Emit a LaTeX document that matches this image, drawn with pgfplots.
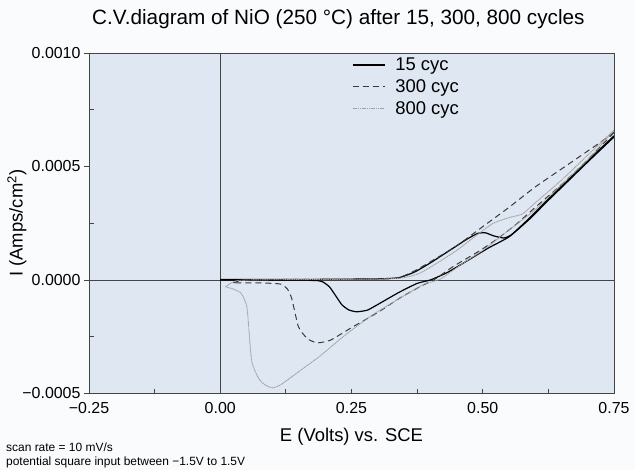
\documentclass[border=0pt]{standalone}
\usepackage{fontspec}
\setmainfont{Liberation Sans}
\usepackage{pgfplots}
\pgfplotsset{compat=1.18}
\definecolor{plotbg}{HTML}{DFE7F2}
\definecolor{pagebg}{HTML}{FAFBFD}
\definecolor{frame}{HTML}{444444}
\definecolor{c300}{HTML}{3A3A3A}
\definecolor{c800}{HTML}{A0A0A0}

\begin{document}
\begin{tikzpicture}
\path[use as bounding box, fill=pagebg] (-89bp,-76.5bp) rectangle (546bp,393.5bp);
\begin{axis}[
  at={(0,0)}, anchor=south west,
  scale only axis, width=525bp, height=340.5bp,
  xmin=-0.25, xmax=0.75, ymin=-0.0005, ymax=0.001,
  axis background/.style={fill=plotbg},
  axis line style={frame, line width=0.8bp},
  scaled x ticks=false, scaled y ticks=false,
  xtick={-0.25,0,0.25,0.5,0.75},
  xticklabels={−0.25,0.00,0.25,0.50,0.75},
  ytick={-0.0005,0,0.0005,0.001},
  yticklabels={−0.0005,0.0000,0.0005,0.0010},
  minor xtick={-0.125,0.125,0.375,0.625},
  tick pos=left,
  xtick align=inside, ytick align=outside,
  major tick length=5bp, minor tick length=5bp,
  tick style={frame, line width=0.8bp},
  extra y ticks={-0.00025,0.00025,0.00075},
  extra y tick labels={},
  extra y tick style={tick align=inside},
  ticklabel style={font=\fontsize{16}{19}\selectfont},
  xticklabel style={yshift=-5bp},
  xlabel={E (Volts) vs. SCE},
  ylabel={I (Amps/cm\textsuperscript{2})},
  every axis x label/.style={at={(rel axis cs:0.5,0)}, yshift=-43.5bp, anchor=center,
    font=\fontsize{18.5}{22}\selectfont},
  every axis y label/.style={at={(rel axis cs:0,0.5)}, xshift=-72bp, rotate=90, anchor=center,
    font=\fontsize{18.5}{22}\selectfont},
  legend style={at={(axis cs:0.245,0.000992)}, anchor=north west, draw=none, fill=none,
    font=\fontsize{18.5}{22}\selectfont, row sep=5.5bp,
    nodes={inner sep=1bp}, column sep=9bp},
  legend cell align=left,
  legend image code/.code={\draw[#1] (0bp,0bp) -- (32bp,0bp);},
]
% zero lines
\addplot[frame, line width=0.9bp, forget plot] coordinates {(-0.25,0) (0.75,0)};
\addplot[frame, line width=0.9bp, forget plot] coordinates {(0,-0.0005) (0,0.001)};

% 15 cyc
\addplot[black, line width=1.2bp, smooth, tension=0.3] coordinates {
(0.00,0.000002) (0.10,0.000002) (0.20,0.000003) (0.30,0.000005) (0.34,0.000010)
(0.37,0.000035) (0.40,0.000075) (0.44,0.000135) (0.47,0.000180) (0.49,0.000205)
(0.505,0.000208) (0.52,0.000195) (0.54,0.000185) (0.555,0.000200) (0.59,0.000275)
(0.62,0.000345) (0.66,0.000435) (0.70,0.000525) (0.75,0.000635)};
\addlegendentry{15 cyc}
\addplot[black, line width=1.2bp, smooth, tension=0.3, forget plot] coordinates {
(0.75,0.000630) (0.70,0.000520) (0.66,0.000430) (0.62,0.000340) (0.59,0.000270)
(0.55,0.000190) (0.51,0.000140) (0.46,0.000070) (0.43,0.000030) (0.40,0.000000)
(0.375,-0.000015) (0.34,-0.000055) (0.30,-0.000108) (0.28,-0.000133) (0.26,-0.000140)
(0.245,-0.000132) (0.232,-0.000110) (0.22,-0.000070) (0.208,-0.000030) (0.195,-0.000008)
(0.18,-0.000002) (0.10,-0.000001) (0.00,0.000000)};

% 300 cyc
\addplot[c300, line width=1bp, dash pattern=on 6bp off 4bp, smooth, tension=0.3] coordinates {
(0.025,-0.000013) (0.04,-0.000002) (0.10,0.000002) (0.30,0.000004) (0.34,0.000010)
(0.37,0.000040) (0.40,0.000080) (0.45,0.000150) (0.50,0.000235) (0.55,0.000320)
(0.60,0.000410) (0.66,0.000505) (0.72,0.000600) (0.75,0.000650)};
\addlegendentry{300 cyc}
\addplot[c300, line width=1bp, dash pattern=on 6bp off 4bp, smooth, tension=0.3, forget plot] coordinates {
(0.75,0.000650) (0.70,0.000530) (0.65,0.000420) (0.60,0.000320) (0.566,0.000250)
(0.533,0.000190) (0.495,0.000130) (0.444,0.000060) (0.41,0.000005) (0.38,-0.000030)
(0.343,-0.000078) (0.30,-0.000143) (0.25,-0.000210) (0.21,-0.000265) (0.185,-0.000277)
(0.168,-0.000262) (0.155,-0.000230) (0.148,-0.000200) (0.142,-0.000140) (0.136,-0.000080)
(0.128,-0.000040) (0.115,-0.000018) (0.08,-0.000013) (0.025,-0.000013)};

% 800 cyc
\addplot[c800, line width=0.9bp, dash pattern=on 1.2bp off 0.6bp, smooth, tension=0.3] coordinates {
(0.01,-0.000030) (0.025,-0.000008) (0.05,0.000000) (0.30,0.000004) (0.35,0.000010)
(0.38,0.000030) (0.41,0.000070) (0.45,0.000130) (0.49,0.000200) (0.52,0.000250)
(0.55,0.000275) (0.575,0.000290) (0.60,0.000340) (0.65,0.000440) (0.70,0.000550)
(0.75,0.000660)};
\addlegendentry{800 cyc}
\addplot[c800, line width=0.9bp, dash pattern=on 1.2bp off 0.6bp, smooth, tension=0.3, forget plot] coordinates {
(0.75,0.000660) (0.70,0.000530) (0.65,0.000420) (0.60,0.000310) (0.55,0.000220)
(0.50,0.000130) (0.46,0.000070) (0.42,0.000005) (0.387,-0.000020) (0.337,-0.000087)
(0.286,-0.000160) (0.235,-0.000248) (0.19,-0.000335) (0.14,-0.000420) (0.115,-0.000462)
(0.10,-0.000475) (0.086,-0.000463) (0.075,-0.000440) (0.066,-0.000400) (0.06,-0.000360)
(0.057,-0.000290) (0.054,-0.000200) (0.051,-0.000120) (0.045,-0.000080) (0.038,-0.000055)
(0.025,-0.000040) (0.01,-0.000030)};
\end{axis}
\node[anchor=west, inner sep=0, font=\fontsize{20.8}{24}\selectfont] at (3bp,374.5bp)
  {C.V.diagram of NiO (250 °C) after 15, 300, 800 cycles};
\node[anchor=west, inner sep=0, font=\fontsize{12}{14}\selectfont] at (-83bp,-53.5bp)
  {scan rate = 10 mV/s};
\node[anchor=west, inner sep=0, font=\fontsize{12}{14}\selectfont] at (-83bp,-68.5bp)
  {potential square input between −1.5V to 1.5V};
\end{tikzpicture}
\end{document}
